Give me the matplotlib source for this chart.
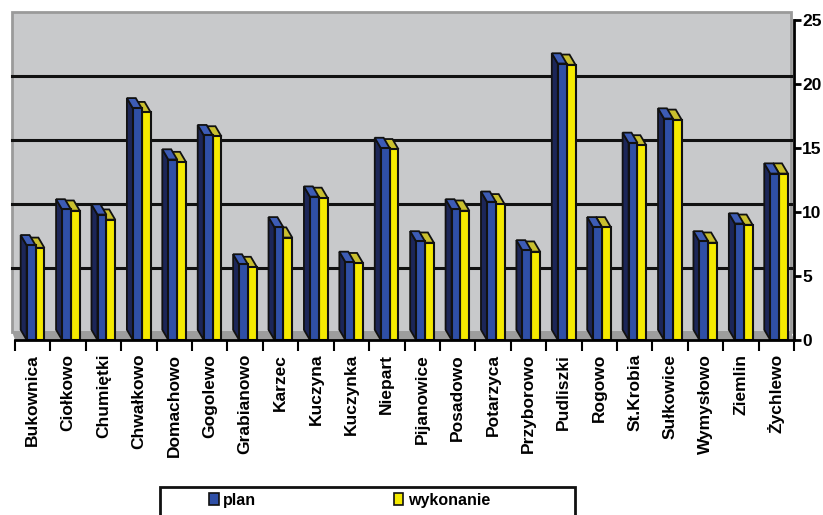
import matplotlib.pyplot as plt
from matplotlib.patches import Polygon, Rectangle
import numpy as np

# Data
villages = ['Bukownica', 'Ciołkowo', 'Chumiętki', 'Chwałkowo', 'Domachowo', 'Gogolewo',
            'Grabianowo', 'Karzec', 'Kuczyna', 'Kuczynka', 'Niepart', 'Pijanowice',
            'Posadowo', 'Potarzyca', 'Przyborowo', 'Pudliszki', 'Rogowo', 'St.Krobia',
            'Sułkowice', 'Wymysłowo', 'Ziemlin', 'Żychlewo']
plan = [7.4, 10.2, 9.8, 18.1, 14.1, 16.0, 5.9, 8.8, 11.2, 6.1, 15.0, 7.7,
        10.2, 10.8, 7.0, 21.6, 8.8, 15.4, 17.3, 7.7, 9.1, 13.0]
wykonanie = [7.2, 10.1, 9.4, 17.8, 13.9, 15.9, 5.7, 8.0, 11.1, 6.0, 14.9, 7.6,
             10.1, 10.6, 6.9, 21.5, 8.8, 15.2, 17.2, 7.6, 9.0, 13.0]
yticks = [0, 5, 10, 15, 20, 25]

# Colours
c_blue, c_blue_top, c_blue_side = '#2f4fa6', '#3d5cb5', '#1c2658'
c_yel, c_yel_top = '#f5ea00', '#c9bf2e'
c_wall, c_floor = '#c8c9cb', '#9d9d9d'

plt.rcParams['font.family'] = ['Liberation Sans', 'DejaVu Sans']

fig = plt.figure(figsize=(8.23, 5.15), dpi=100)
ax = fig.add_axes([15 / 823, 175 / 515, 779 / 823, 320 / 515])

n = len(villages)
x = np.arange(n)
w = 0.25          # bar width
dx, dy = 0.17, 0.8    # bar depth offsets (data units)
wdx, wdy = 0.08, 0.65  # back wall offset

ax.set_xlim(-0.5, n - 0.5)
ax.set_ylim(0, 25)

# Back wall, floor and grid lines
ax.add_patch(Rectangle((-0.5 - wdx, wdy), n, 25, facecolor=c_wall, edgecolor='#9a9a9a',
                       lw=2, zorder=0, clip_on=False))
ax.add_patch(Polygon([(-0.5, 0), (n - 0.5, 0), (n - 0.5 - wdx, wdy), (-0.5 - wdx, wdy)],
                     closed=True, facecolor=c_floor, edgecolor='none', zorder=1, clip_on=False))
for v in yticks[1:-1]:
    ax.plot([-0.5 - wdx, n - 0.5 - wdx], [v + wdy, v + wdy], color='#111111', lw=2.2,
            zorder=1, clip_on=False)


def bar3d(left, h, front, top, side, z):
    # side face (left)
    ax.add_patch(Polygon([(left, 0), (left, h), (left - dx, h + dy), (left - dx, dy)],
                         closed=True, facecolor=side, edgecolor='#111111', lw=1.3,
                         zorder=z, clip_on=False))
    # top cap
    ax.add_patch(Polygon([(left, h), (left + w, h), (left + w - dx, h + dy), (left - dx, h + dy)],
                         closed=True, facecolor=top, edgecolor='#111111', lw=1.3,
                         zorder=z, clip_on=False))
    # front face
    ax.add_patch(Rectangle((left, 0), w, h, facecolor=front, edgecolor='#111111', lw=1.5,
                           zorder=z + 0.5, clip_on=False))


for i in range(n):
    bar3d(x[i] + 0.08, wykonanie[i], c_yel, c_yel_top, '#8c861e', 3 + i * 0.01)
    bar3d(x[i] - 0.17, plan[i], c_blue, c_blue_top, c_blue_side, 4 + i * 0.01)

# Axes styling
for s in ['top', 'left']:
    ax.spines[s].set_visible(False)
ax.spines['right'].set_linewidth(2)
ax.spines['bottom'].set_linewidth(2)
ax.spines['right'].set_zorder(6)
ax.spines['bottom'].set_zorder(6)

ax.yaxis.tick_right()
ax.set_yticks(yticks)
ax.set_yticklabels([str(v) for v in yticks], fontsize=12.5, fontweight='bold')
ax.tick_params(axis='y', direction='out', length=5, width=2, pad=1)

ax.set_xticks(x)
ax.set_xticklabels(villages, rotation=90, fontsize=12.5, fontweight='bold')
ax.set_xticks(np.arange(n + 1) - 0.5, minor=True)
ax.tick_params(axis='x', which='major', length=0, pad=10)
ax.tick_params(axis='x', which='minor', length=8, width=1.5, direction='out')

# Legend: frame drawn as a box that runs off the bottom edge
fig.add_artist(Rectangle((160 / 823, -0.05), 415 / 823, 0.05 + 28 / 515,
                         transform=fig.transFigure, facecolor='white',
                         edgecolor='#111111', lw=2))
h1 = Rectangle((0, 0), 1, 1, facecolor=c_blue, edgecolor='#111111', lw=1.2)
h2 = Rectangle((0, 0), 1, 1, facecolor=c_yel, edgecolor='#111111', lw=1.2)
leg = fig.legend([h1, h2], ['plan', 'wykonanie'], loc='center left',
                 bbox_to_anchor=(209 / 823, 1 - 500 / 515),
                 ncol=2, frameon=False, handlelength=0.6, handleheight=0.8,
                 handletextpad=0.3, columnspacing=8.6, borderaxespad=0, borderpad=0,
                 prop={'size': 11.5, 'weight': 'bold'})

fig.savefig('out.png', dpi=100)
